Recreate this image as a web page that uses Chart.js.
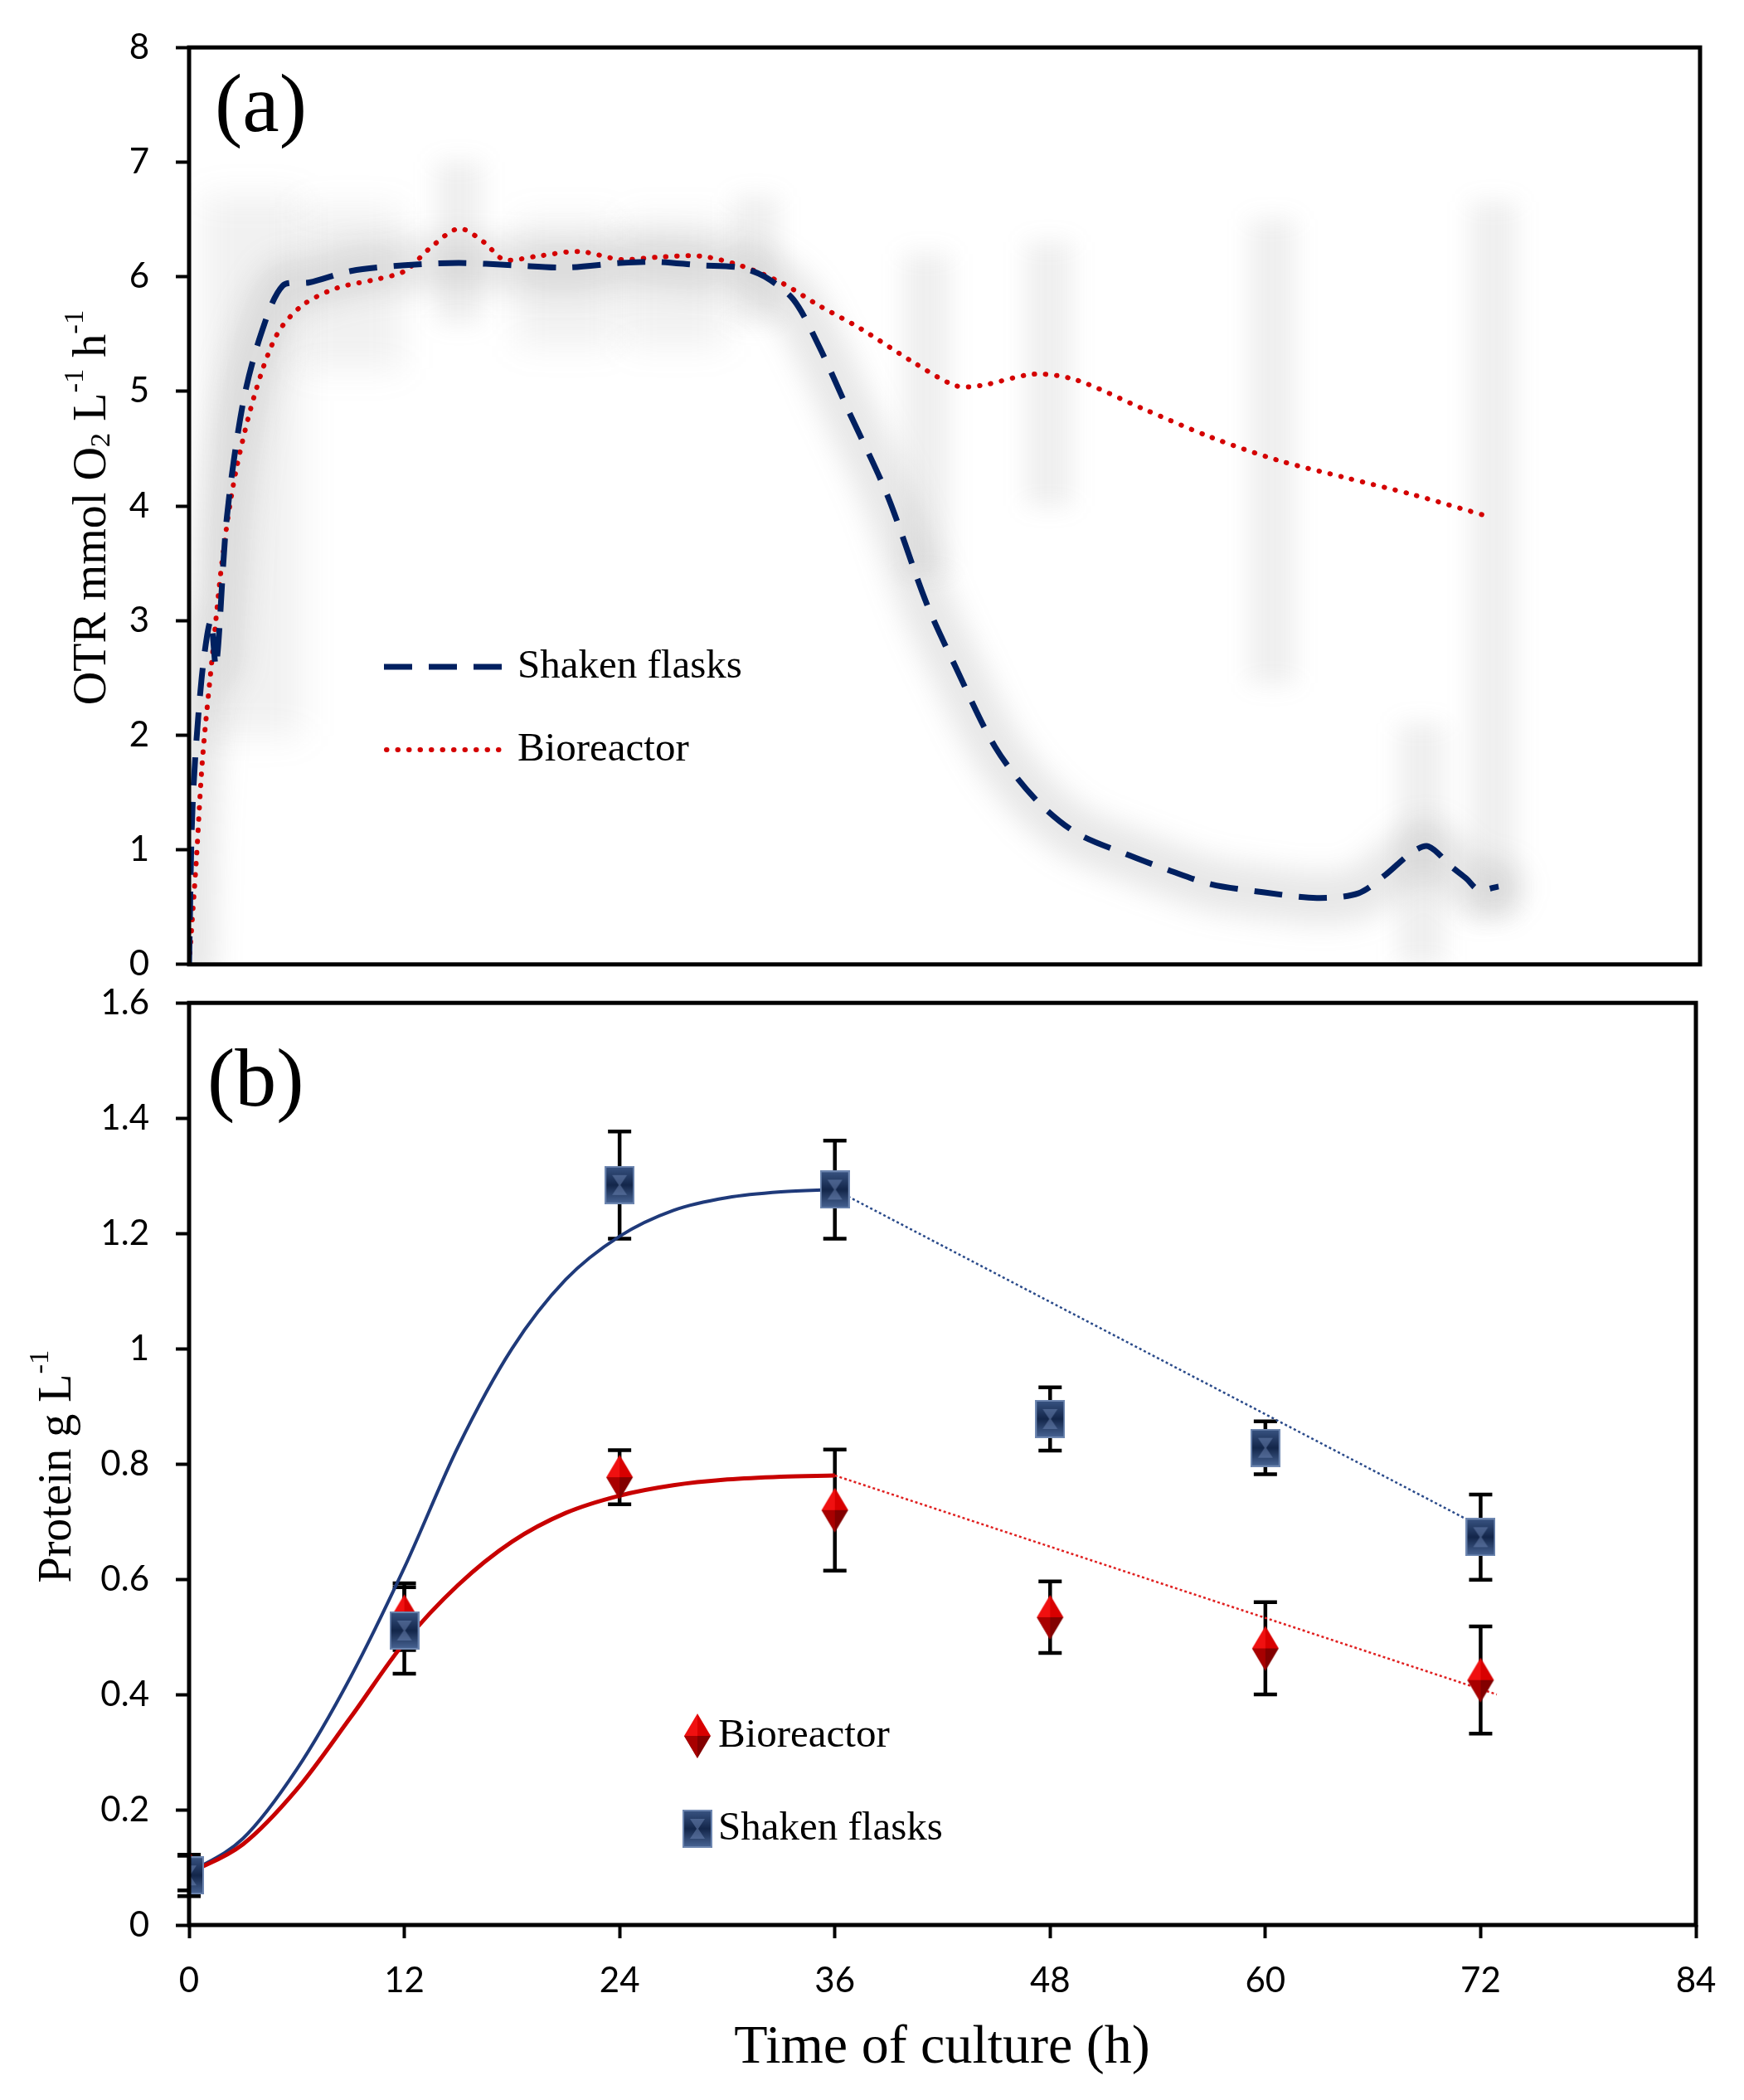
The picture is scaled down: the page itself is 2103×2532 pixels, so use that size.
<!DOCTYPE html>
<html>
<head>
<meta charset="utf-8">
<script src="https://cdn.jsdelivr.net/npm/chart.js@4.4.1/dist/chart.umd.min.js"></script>
<style>
  body { margin: 0; background: #fff; }
  #wrap { position: relative; width: 2103px; height: 2532px; background: #fff; overflow: hidden; }
  canvas { position: absolute; left: 0; }
  #otrChart { top: 0; }
  #proteinChart { top: 1152px; }
</style>
</head>
<body>
<div id="wrap">
  <canvas id="otrChart" width="2103" height="1220"></canvas>
  <canvas id="proteinChart" width="2103" height="1380"></canvas>
</div>
<script>
// ---- panel (a): OTR curves ----
var flaskOtrTime = [0, 0.2, 0.7, 1.2, 1.5, 2.1, 3.0, 4.0, 5.2, 6.7, 9, 12, 15, 18, 21, 24, 26, 28.4, 30.6, 32, 33.6, 35, 36.6, 38.8, 41, 42.6, 44.8, 47, 49.3, 52.3, 54.5, 56.8, 59.7, 62.7, 65, 66.5, 68, 68.9, 70.2, 71, 71.7, 72.8];
var flaskOtr = [0, 1.4, 2.5, 3.0, 2.6, 3.9, 4.9, 5.5, 5.92, 5.95, 6.05, 6.1, 6.12, 6.1, 6.08, 6.12, 6.13, 6.1, 6.08, 6.0, 5.8, 5.4, 4.85, 4.1, 3.15, 2.6, 1.9, 1.45, 1.15, 0.95, 0.82, 0.7, 0.63, 0.58, 0.62, 0.78, 0.98, 1.03, 0.85, 0.75, 0.65, 0.68];
var bioOtrTime = [0, 0.4, 0.75, 1.3, 1.9, 2.6, 3.7, 4.9, 6.3, 8.2, 10.5, 12, 13.4, 15, 16.4, 17.5, 19.4, 21.7, 24, 26, 28.4, 30.6, 32.9, 35, 37.3, 40.3, 42.6, 44, 47, 49.3, 53, 56.8, 60.5, 64.2, 68, 72.4];
var bioOtr = [0, 0.9, 1.8, 2.7, 3.6, 4.3, 5.0, 5.5, 5.75, 5.9, 5.98, 6.05, 6.25, 6.42, 6.3, 6.15, 6.18, 6.22, 6.15, 6.17, 6.18, 6.1, 5.95, 5.75, 5.55, 5.25, 5.05, 5.05, 5.15, 5.1, 4.85, 4.6, 4.4, 4.25, 4.1, 3.9];
// faint grey spread of the raw signal (wide and narrow columns)
var hazeWideTime = [3.5, 9, 21, 27];
var hazeWideLow = [2.0, 5.2, 5.4, 5.4];
var hazeWideHigh = [6.7, 6.6, 6.5, 6.5];
var hazeTime = [15, 31.5, 41, 47.8, 60.2, 68.5, 72.5];
var hazeLow = [5.6, 5.6, 3.4, 4.0, 2.45, 0.0, 0.4];
var hazeHigh = [7.0, 6.7, 6.2, 6.3, 6.5, 2.1, 6.65];
var otrTicks = [0, 1, 2, 3, 4, 5, 6, 7, 8];

// ---- panel (b): protein ----
var sampleTime = [0, 12, 24, 36, 48, 60, 72];
var bioProtein = [0.09, 0.535, 0.777, 0.72, 0.534, 0.48, 0.425];
var bioProteinErr = [0.03, 0.058, 0.047, 0.105, 0.062, 0.08, 0.093];
var flaskProtein = [0.086, 0.511, 1.284, 1.276, 0.878, 0.828, 0.673];
var flaskProteinErr = [0.036, 0.075, 0.093, 0.085, 0.055, 0.046, 0.074];
var fitTime = [0, 3, 6, 9, 12, 15, 18, 21, 24, 27, 30, 33, 36];
var flaskFit = [0.09, 0.15, 0.27, 0.43, 0.62, 0.83, 1.0, 1.12, 1.195, 1.24, 1.262, 1.272, 1.276];
var bioFit = [0.09, 0.14, 0.235, 0.36, 0.49, 0.59, 0.665, 0.715, 0.745, 0.763, 0.773, 0.778, 0.78];
var flaskDeclineTime = [36, 72.7];
var flaskDecline = [1.276, 0.68];
var bioDeclineTime = [36, 72.9];
var bioDecline = [0.78, 0.40];
var timeTicks = [0, 12, 24, 36, 48, 60, 72, 84];

var NAVY = '#002060';
var RED = '#d40000';
var SERIF = '"Liberation Serif", "Times New Roman", serif';
var TICKFONT = { family: 'Lato, "Open Sans", sans-serif', size: 42 };
var B_TOP = 1152; // page offset of the lower canvas

function xy(xs, ys) {
  return xs.map(function(x, i) { return { x: x, y: ys[i] }; });
}
function range(xs, lo, hi) {
  return xs.map(function(x, i) { return { x: x, y: [lo[i], hi[i]] }; });
}

// marker images for panel (b)
function makeSquare() {
  var c = document.createElement('canvas');
  c.width = 36; c.height = 46;
  var g = c.getContext('2d');
  var grad = g.createLinearGradient(0, 0, 0, 46);
  grad.addColorStop(0, '#3a5584');
  grad.addColorStop(0.5, '#13264a');
  grad.addColorStop(1, '#4a6696');
  g.fillStyle = grad;
  g.fillRect(1, 1, 34, 44);
  g.strokeStyle = '#6d86b0';
  g.lineWidth = 2;
  g.strokeRect(1, 1, 34, 44);
  g.fillStyle = 'rgba(120,145,190,0.45)';
  g.beginPath();
  g.moveTo(9, 11); g.lineTo(27, 11); g.lineTo(19, 23); g.lineTo(27, 35); g.lineTo(9, 35); g.lineTo(17, 23);
  g.closePath();
  g.fill();
  return c;
}
function makeDiamond() {
  var c = document.createElement('canvas');
  c.width = 34; c.height = 56;
  var g = c.getContext('2d');
  g.fillStyle = '#d80000';
  g.beginPath(); g.moveTo(17, 1); g.lineTo(33, 28); g.lineTo(17, 28); g.closePath(); g.fill();
  g.fillStyle = '#f01010';
  g.beginPath(); g.moveTo(17, 1); g.lineTo(1, 28); g.lineTo(17, 28); g.closePath(); g.fill();
  g.fillStyle = '#820000';
  g.beginPath(); g.moveTo(1, 28); g.lineTo(17, 55); g.lineTo(33, 28); g.closePath(); g.fill();
  g.fillStyle = '#a80000';
  g.beginPath(); g.moveTo(1, 28); g.lineTo(17, 55); g.lineTo(17, 28); g.closePath(); g.fill();
  return c;
}
var squareImg = makeSquare();
var diamondImg = makeDiamond();

// blur for the grey haze datasets
var blurPlugin = {
  id: 'blurPlugin',
  beforeDatasetDraw: function(chart, args) {
    var ds = chart.data.datasets[args.index];
    if (ds.blur) { chart.ctx.save(); chart.ctx.filter = 'blur(' + ds.blur + 'px)'; }
  },
  afterDatasetDraw: function(chart, args) {
    var ds = chart.data.datasets[args.index];
    if (ds.blur) chart.ctx.restore();
  }
};

// box round the plot area
var framePlugin = {
  id: 'framePlugin',
  afterDraw: function(chart) {
    var a = chart.chartArea, ctx = chart.ctx;
    ctx.save();
    ctx.strokeStyle = '#000';
    ctx.lineWidth = 5;
    ctx.strokeRect(a.left, a.top, a.right - a.left, a.bottom - a.top);
    ctx.restore();
  }
};

// text with sub/superscripts, drawn left to right from x
function richText(ctx, parts, x, y, size) {
  parts.forEach(function(p) {
    var s = p.mode ? size * 0.62 : size;
    var dy = p.mode === 'sub' ? size * 0.2 : (p.mode === 'sup' ? -size * 0.38 : 0);
    ctx.font = s + 'px ' + SERIF;
    ctx.fillText(p.t, x, y + dy);
    x += ctx.measureText(p.t).width;
  });
}
function richWidth(ctx, parts, size) {
  var w = 0;
  parts.forEach(function(p) {
    ctx.font = (p.mode ? size * 0.62 : size) + 'px ' + SERIF;
    w += ctx.measureText(p.t).width;
  });
  return w;
}
function verticalTitle(ctx, parts, cx, cy, size) {
  ctx.save();
  ctx.translate(cx, cy);
  ctx.rotate(-Math.PI / 2);
  ctx.fillStyle = '#000';
  ctx.textBaseline = 'middle';
  richText(ctx, parts, -richWidth(ctx, parts, size) / 2, 0, size);
  ctx.restore();
}

var otrTitle = [{ t: 'OTR mmol O' }, { t: '2', mode: 'sub' }, { t: ' L' }, { t: '-1', mode: 'sup' }, { t: ' h' }, { t: '-1', mode: 'sup' }];
var proteinTitle = [{ t: 'Protein g L' }, { t: '-1', mode: 'sup' }];

var otrTextPlugin = {
  id: 'otrText',
  afterDraw: function(chart) {
    var ctx = chart.ctx;
    ctx.save();
    ctx.fillStyle = '#000';
    ctx.textBaseline = 'alphabetic';
    ctx.font = '100px ' + SERIF;
    ctx.fillText('(a)', 259, 158);
    verticalTitle(ctx, otrTitle, 112, 612, 56);
    // legend
    ctx.lineWidth = 7;
    ctx.strokeStyle = NAVY;
    ctx.setLineDash([34, 20]);
    ctx.beginPath(); ctx.moveTo(463, 804); ctx.lineTo(608, 804); ctx.stroke();
    ctx.lineWidth = 6;
    ctx.strokeStyle = RED;
    ctx.lineCap = 'round';
    ctx.setLineDash([0.5, 13]);
    ctx.beginPath(); ctx.moveTo(466, 904); ctx.lineTo(604, 904); ctx.stroke();
    ctx.setLineDash([]);
    ctx.font = '49px ' + SERIF;
    ctx.textBaseline = 'middle';
    ctx.fillText('Shaken flasks', 624, 804);
    ctx.fillText('Bioreactor', 624, 904);
    ctx.restore();
  }
};

var proteinTextPlugin = {
  id: 'proteinText',
  beforeDatasetsDraw: function(chart) {
    // error bars under the markers
    var ctx = chart.ctx, xs = chart.scales.x, ys = chart.scales.y;
    ctx.save();
    ctx.strokeStyle = '#000';
    ctx.lineWidth = 4.5;
    function bars(vals, errs) {
      sampleTime.forEach(function(t, i) {
        var px = xs.getPixelForValue(t);
        var top = ys.getPixelForValue(vals[i] + errs[i]);
        var bot = ys.getPixelForValue(vals[i] - errs[i]);
        ctx.beginPath();
        ctx.moveTo(px, top); ctx.lineTo(px, bot);
        ctx.moveTo(px - 14, top); ctx.lineTo(px + 14, top);
        ctx.moveTo(px - 14, bot); ctx.lineTo(px + 14, bot);
        ctx.stroke();
      });
    }
    bars(bioProtein, bioProteinErr);
    bars(flaskProtein, flaskProteinErr);
    ctx.restore();
  },
  afterDraw: function(chart) {
    var ctx = chart.ctx;
    var off = B_TOP;
    ctx.save();
    ctx.fillStyle = '#000';
    ctx.textBaseline = 'alphabetic';
    ctx.font = '100px ' + SERIF;
    ctx.fillText('(b)', 250, 1333 - off);
    verticalTitle(ctx, proteinTitle, 70, 1768 - off, 56);
    ctx.font = '66px ' + SERIF;
    ctx.textAlign = 'center';
    ctx.textBaseline = 'middle';
    ctx.fillText('Time of culture (h)', 1136, 2470 - off);
    ctx.textAlign = 'left';
    ctx.font = '49px ' + SERIF;
    ctx.drawImage(diamondImg, 841 - 17, 2093 - off - 28);
    ctx.fillText('Bioreactor', 866, 2093 - off);
    ctx.drawImage(squareImg, 841 - 18, 2205 - off - 23);
    ctx.fillText('Shaken flasks', 866, 2205 - off);
    ctx.restore();
  }
};

function yAxis(min, max, step, fmt) {
  return {
    type: 'linear', min: min, max: max,
    afterFit: function(scale) { scale.width = 228; },
    border: { display: false },
    grid: { drawOnChartArea: false, drawTicks: true, tickLength: 16, tickWidth: 4, tickColor: '#000' },
    ticks: { stepSize: step, color: '#000', font: TICKFONT, padding: 32, callback: fmt }
  };
}

// ---- chart (a) ----
new Chart(document.getElementById('otrChart').getContext('2d'), {
  type: 'line',
  data: {
    datasets: [
      {
        type: 'bar', label: 'haze wide', data: range(hazeWideTime, hazeWideLow, hazeWideHigh),
        backgroundColor: 'rgba(120,120,120,0.10)', barThickness: 120, grouped: false, blur: 20, order: 6
      },
      {
        type: 'bar', label: 'haze', data: range(hazeTime, hazeLow, hazeHigh),
        backgroundColor: 'rgba(120,120,120,0.12)', barThickness: 55, grouped: false, blur: 14, order: 5
      },
      {
        label: 'haze band', data: xy(flaskOtrTime, flaskOtr),
        borderColor: 'rgba(110,110,110,0.16)', borderWidth: 64, pointRadius: 0, tension: 0.3,
        borderCapStyle: 'round', borderJoinStyle: 'round', fill: false, blur: 16, order: 4
      },
      {
        label: 'Bioreactor', data: xy(bioOtrTime, bioOtr),
        borderColor: RED, borderWidth: 6, borderDash: [0.5, 13], borderCapStyle: 'round',
        pointRadius: 0, tension: 0.3, fill: false, order: 2
      },
      {
        label: 'Shaken flasks', data: xy(flaskOtrTime, flaskOtr),
        borderColor: NAVY, borderWidth: 7, borderDash: [34, 20],
        pointRadius: 0, tension: 0.3, fill: false, order: 1
      }
    ]
  },
  options: {
    responsive: false, animation: false, devicePixelRatio: 1,
    layout: { padding: { top: 57, right: 53, bottom: 27, left: 0 } },
    plugins: { legend: { display: false }, tooltip: { enabled: false } },
    scales: {
      x: { type: 'linear', min: 0, max: 84, display: false, offset: false },
      y: yAxis(0, 8, 1, function(v) { return otrTicks.indexOf(v) >= 0 ? String(v) : ''; })
    }
  },
  plugins: [blurPlugin, framePlugin, otrTextPlugin]
});

// ---- chart (b) ----
new Chart(document.getElementById('proteinChart').getContext('2d'), {
  type: 'line',
  data: {
    datasets: [
      {
        label: 'Shaken flasks fit', data: xy(fitTime, flaskFit),
        borderColor: '#1f3a7a', borderWidth: 4, pointRadius: 0, cubicInterpolationMode: 'monotone', order: 6
      },
      {
        label: 'Bioreactor fit', data: xy(fitTime, bioFit),
        borderColor: '#c80000', borderWidth: 5, pointRadius: 0, cubicInterpolationMode: 'monotone', order: 5
      },
      {
        label: 'Shaken flasks decline', data: xy(flaskDeclineTime, flaskDecline),
        borderColor: '#2a4a8a', borderWidth: 2.5, borderDash: [3, 3], pointRadius: 0, order: 4
      },
      {
        label: 'Bioreactor decline', data: xy(bioDeclineTime, bioDecline),
        borderColor: '#e02020', borderWidth: 2.5, borderDash: [3, 3], pointRadius: 0, order: 3
      },
      {
        label: 'Bioreactor', data: xy(sampleTime, bioProtein), showLine: false,
        pointStyle: diamondImg, order: 2
      },
      {
        label: 'Shaken flasks', data: xy(sampleTime, flaskProtein), showLine: false,
        pointStyle: squareImg, order: 1
      }
    ]
  },
  options: {
    responsive: false, animation: false, devicePixelRatio: 1,
    layout: { padding: { top: 22, right: 58, bottom: 0, left: 0 } },
    plugins: { legend: { display: false }, tooltip: { enabled: false } },
    scales: {
      x: {
        type: 'linear', min: 0, max: 84, offset: false,
        afterFit: function(scale) { scale.height = 211; },
        afterBuildTicks: function(scale) { scale.ticks = timeTicks.map(function(v) { return { value: v }; }); },
        border: { display: false },
        grid: { drawOnChartArea: false, drawTicks: true, tickLength: 16, tickWidth: 4, tickColor: '#000' },
        ticks: { color: '#000', font: TICKFONT, padding: 26, maxRotation: 0 }
      },
      y: yAxis(0, 1.6, 0.2, function(v) { return String(+v.toFixed(1)); })
    }
  },
  plugins: [framePlugin, proteinTextPlugin]
});
</script>
</body>
</html>
